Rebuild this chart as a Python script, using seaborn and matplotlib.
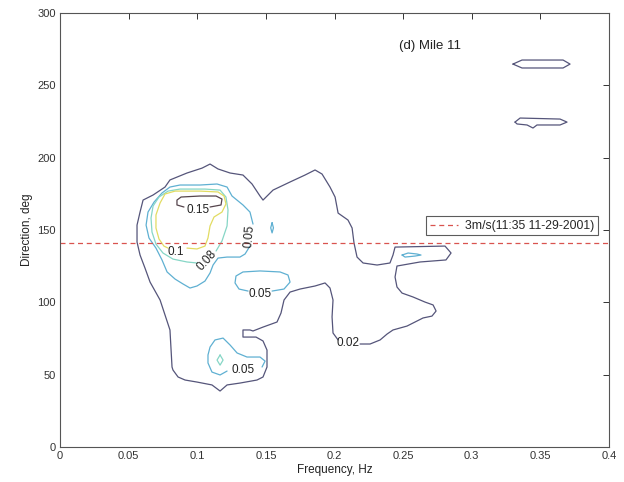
import matplotlib
matplotlib.use("Agg")
import matplotlib.pyplot as plt
import seaborn as sns

# ---- axis ticks -----------------------------------------------------------
freq_ticks = [0, 0.05, 0.1, 0.15, 0.2, 0.25, 0.3, 0.35, 0.4]
freq_tick_labels = ["0", "0.05", "0.1", "0.15", "0.2", "0.25", "0.3", "0.35", "0.4"]
dir_ticks = [0, 50, 100, 150, 200, 250, 300]
dir_tick_labels = ["0", "50", "100", "150", "200", "250", "300"]

# ---- wind direction --------------------------------------------------------
wind_dir = 141.0
wind_label = "3m/s(11:35 11-29-2001)"

# ---- contour lines of the directional spectrum (freq in Hz, dir in deg) ---
# level 0.02, main region (open where the label sits)
c02_main_f = [0.2026, 0.1989, 0.1982, 0.1989, 0.1967, 0.1931, 0.1858, 0.1749, 0.1676,
              0.1632, 0.1610, 0.1581, 0.1479, 0.1406, 0.1384, 0.1333, 0.1333, 0.1384,
              0.1428, 0.1479, 0.1508, 0.1508, 0.1479, 0.1435, 0.1311, 0.1217, 0.1166,
              0.1107, 0.0998, 0.0911, 0.0860, 0.0823, 0.0816, 0.0801, 0.0729, 0.0656,
              0.0619, 0.0583, 0.0561, 0.0561, 0.0583, 0.0605, 0.0678, 0.0765, 0.0801,
              0.0925, 0.1035, 0.1093, 0.1151, 0.1239, 0.1333, 0.1399, 0.1457, 0.1479,
              0.1552, 0.1676, 0.1785, 0.1858, 0.1909, 0.1967, 0.2004, 0.2026, 0.2098,
              0.2128, 0.2142, 0.2164, 0.2208, 0.2310, 0.2404, 0.2426, 0.2441, 0.2805,
              0.2849, 0.2812, 0.2623, 0.2455, 0.2441, 0.2455, 0.2492, 0.2572, 0.2659,
              0.2718, 0.2740, 0.2710, 0.2645, 0.2528, 0.2426, 0.2383, 0.2332, 0.2259,
              0.2186]
c02_main_d = [74.0, 78.8, 89.9, 101.6, 109.9, 113.4, 111.3, 109.2, 107.1,
              101.6, 92.6, 86.4, 82.9, 80.2, 80.9, 80.9, 76.0, 76.0,
              76.0, 73.3, 67.0, 55.3, 48.4, 46.3, 44.2, 42.9, 38.7,
              42.9, 44.9, 46.3, 48.4, 53.2, 55.3, 80.9, 101.6, 114.0,
              123.7, 132.7, 141.7, 153.4, 162.4, 170.7, 174.2, 179.7, 184.6,
              189.4, 192.8, 195.6, 192.2, 189.4, 188.0, 181.8, 173.5, 170.7,
              177.6, 183.2, 188.0, 191.5, 188.7, 179.7, 172.8, 161.7, 156.9,
              151.4, 141.0, 131.3, 127.2, 125.8, 127.2, 132.7, 138.2, 138.9,
              134.1, 129.3, 127.9, 125.1, 117.5, 110.6, 106.4, 103.7, 100.2,
              98.2, 94.0, 90.5, 89.2, 83.6, 80.9, 78.1, 74.0, 71.2,
              71.2]
# level 0.02, two small islands at high frequency
c02_upper_f = [0.3300, 0.3366, 0.3665, 0.3716, 0.3665, 0.3366, 0.3300]
c02_upper_d = [264.7, 267.5, 267.5, 264.7, 262.0, 262.0, 264.7]
c02_lower_f = [0.3315, 0.3352, 0.3643, 0.3694, 0.3643, 0.3475, 0.3446, 0.3403, 0.3330, 0.3315]
c02_lower_d = [224.6, 227.4, 226.7, 224.6, 222.6, 222.6, 220.5, 222.6, 223.3, 224.6]

# level 0.05
c05_main_f = [0.1384, 0.1348, 0.1311, 0.1217, 0.1151, 0.1115, 0.1093, 0.1056, 0.0998,
              0.0947, 0.0896, 0.0838, 0.0780, 0.0743, 0.0699, 0.0648, 0.0627, 0.0641,
              0.0685, 0.0743, 0.0801, 0.0874, 0.1020, 0.1144, 0.1217, 0.1253, 0.1333,
              0.1384, 0.1406]
c05_main_d = [138.9, 133.4, 131.3, 131.3, 130.6, 125.8, 120.3, 114.7, 111.3,
              109.9, 112.7, 116.1, 121.0, 129.3, 137.5, 144.5, 153.4, 162.4,
              169.3, 175.6, 179.7, 181.1, 181.1, 181.8, 179.7, 173.5, 167.3,
              162.4, 154.1]
c05_mid_f = [0.1545, 0.1632, 0.1676, 0.1661, 0.1603, 0.1457, 0.1333, 0.1282, 0.1275, 0.1304, 0.1370]
c05_mid_d = [107.8, 109.2, 114.0, 118.9, 121.0, 121.7, 121.0, 118.2, 113.4, 109.2, 107.8]
c05_low_f = [0.1472, 0.1494, 0.1457, 0.1362, 0.1290, 0.1239, 0.1188, 0.1129, 0.1093,
             0.1078, 0.1078, 0.1107, 0.1166, 0.1217]
c05_low_d = [55.3, 59.4, 62.2, 62.2, 65.0, 70.5, 75.3, 74.0, 69.1,
             63.6, 58.1, 51.8, 49.8, 52.5]
c05_dot_f = [0.1545, 0.1555, 0.1545, 0.1535, 0.1545]
c05_dot_d = [155.0, 151.5, 148.0, 151.5, 155.0]
c05_lobe_f = [0.2492, 0.2536, 0.2601, 0.2630, 0.2587, 0.2514, 0.2492]
c05_lobe_d = [132.7, 134.1, 133.4, 132.7, 132.0, 131.3, 132.7]

# level 0.08
c08_main_f = [0.1137, 0.1180, 0.1217, 0.1224, 0.1209, 0.1166, 0.1056, 0.0874, 0.0787,
              0.0721, 0.0678, 0.0663, 0.0670, 0.0699, 0.0750, 0.0823, 0.0925, 0.0998]
c08_main_d = [135.5, 142.4, 152.8, 163.8, 172.8, 177.6, 178.3, 178.3, 176.9,
              172.8, 166.6, 158.3, 148.6, 140.3, 134.1, 129.9, 127.9, 127.2]
c08_low_f = [0.1166, 0.1188, 0.1166, 0.1144, 0.1166]
c08_low_d = [63.6, 60.1, 56.6, 60.1, 63.6]

# level 0.1
c10_f = [0.0925, 0.0998, 0.1056, 0.1078, 0.1093, 0.1122, 0.1180, 0.1209, 0.1195,
         0.1151, 0.1020, 0.0838, 0.0765, 0.0729, 0.0699, 0.0699, 0.0721, 0.0757, 0.0787]
c10_d = [137.5, 136.9, 138.9, 144.5, 152.8, 159.0, 162.4, 168.0, 173.5,
         176.3, 176.9, 176.9, 174.9, 168.7, 160.4, 151.4, 143.8, 138.9, 137.5]

# level 0.15
c15_f = [0.1093, 0.1173, 0.1180, 0.1137, 0.1020, 0.0882, 0.0852, 0.0852, 0.0903]
c15_d = [165.9, 167.3, 171.4, 173.5, 173.5, 172.8, 170.7, 167.3, 165.9]

# inline contour labels: text, freq, dir, rotation
label_text = ["0.15", "0.1", "0.08", "0.05", "0.05", "0.05", "0.02"]
label_freq = [0.1005, 0.0845, 0.1071, 0.1377, 0.1457, 0.1333, 0.2098]
label_dir = [163.8, 134.8, 129.3, 145.8, 105.8, 53.2, 71.9]
label_rot = [0, 0, 48, 85, 0, 0, 0]

level_colors = {0.02: "#55557a", 0.05: "#5fb0d2", 0.08: "#86d6c6",
                0.10: "#e2dc62", 0.15: "#55444c"}

contours = [
    (0.02, c02_main_f, c02_main_d), (0.02, c02_upper_f, c02_upper_d),
    (0.02, c02_lower_f, c02_lower_d),
    (0.05, c05_main_f, c05_main_d), (0.05, c05_mid_f, c05_mid_d),
    (0.05, c05_low_f, c05_low_d), (0.05, c05_dot_f, c05_dot_d),
    (0.05, c05_lobe_f, c05_lobe_d),
    (0.08, c08_main_f, c08_main_d), (0.08, c08_low_f, c08_low_d),
    (0.10, c10_f, c10_d),
    (0.15, c15_f, c15_d),
]

# ---- figure ----------------------------------------------------------------
sns.set_theme(style="white")
plt.rcParams["font.family"] = ["Liberation Sans", "DejaVu Sans"]

fig = plt.figure(figsize=(6.24, 4.82), dpi=100)
ax = fig.add_axes([0.0962, 0.0726, 0.8798, 0.9004])

for level, fr, dr in contours:
    sns.lineplot(x=fr, y=dr, sort=False, estimator=None, ax=ax,
                 color=level_colors[level], linewidth=0.9, legend=False)

for t, fx, dy, rot in zip(label_text, label_freq, label_dir, label_rot):
    ax.text(fx, dy, t, fontsize=8.5, color="#222222", rotation=rot,
            ha="center", va="center", rotation_mode="anchor")

ax.axhline(wind_dir, color="#d9534f", linestyle=(0, (4, 3)), linewidth=0.9,
           label=wind_label)

ax.text(0.2696, 277.2, "(d) Mile 11", fontsize=9.5, color="#222222",
        ha="center", va="center")

leg = ax.legend(loc="upper right", bbox_to_anchor=(0.98, 0.532), fontsize=8.8,
                frameon=True, fancybox=False, handlelength=2.3,
                borderpad=0.3, handletextpad=0.6, borderaxespad=0.0)
leg.get_frame().set_edgecolor("#333333")
leg.get_frame().set_linewidth(0.8)

ax.set_xlim(0, 0.4)
ax.set_ylim(0, 300)
ax.set_xticks(freq_ticks)
ax.set_xticklabels(freq_tick_labels)
ax.set_yticks(dir_ticks)
ax.set_yticklabels(dir_tick_labels)
ax.tick_params(direction="in", length=4, width=0.7, top=True, right=True,
               labelsize=8, colors="#333333", pad=3)
for s in ax.spines.values():
    s.set_visible(True)
    s.set_color("#555555")
    s.set_linewidth(0.8)

ax.set_xlabel("Frequency, Hz", fontsize=8.5, color="#222222", labelpad=2)
ax.set_ylabel("Direction, deg", fontsize=8.5, color="#222222", labelpad=3)

fig.savefig("out.png", dpi=100, facecolor="white")
